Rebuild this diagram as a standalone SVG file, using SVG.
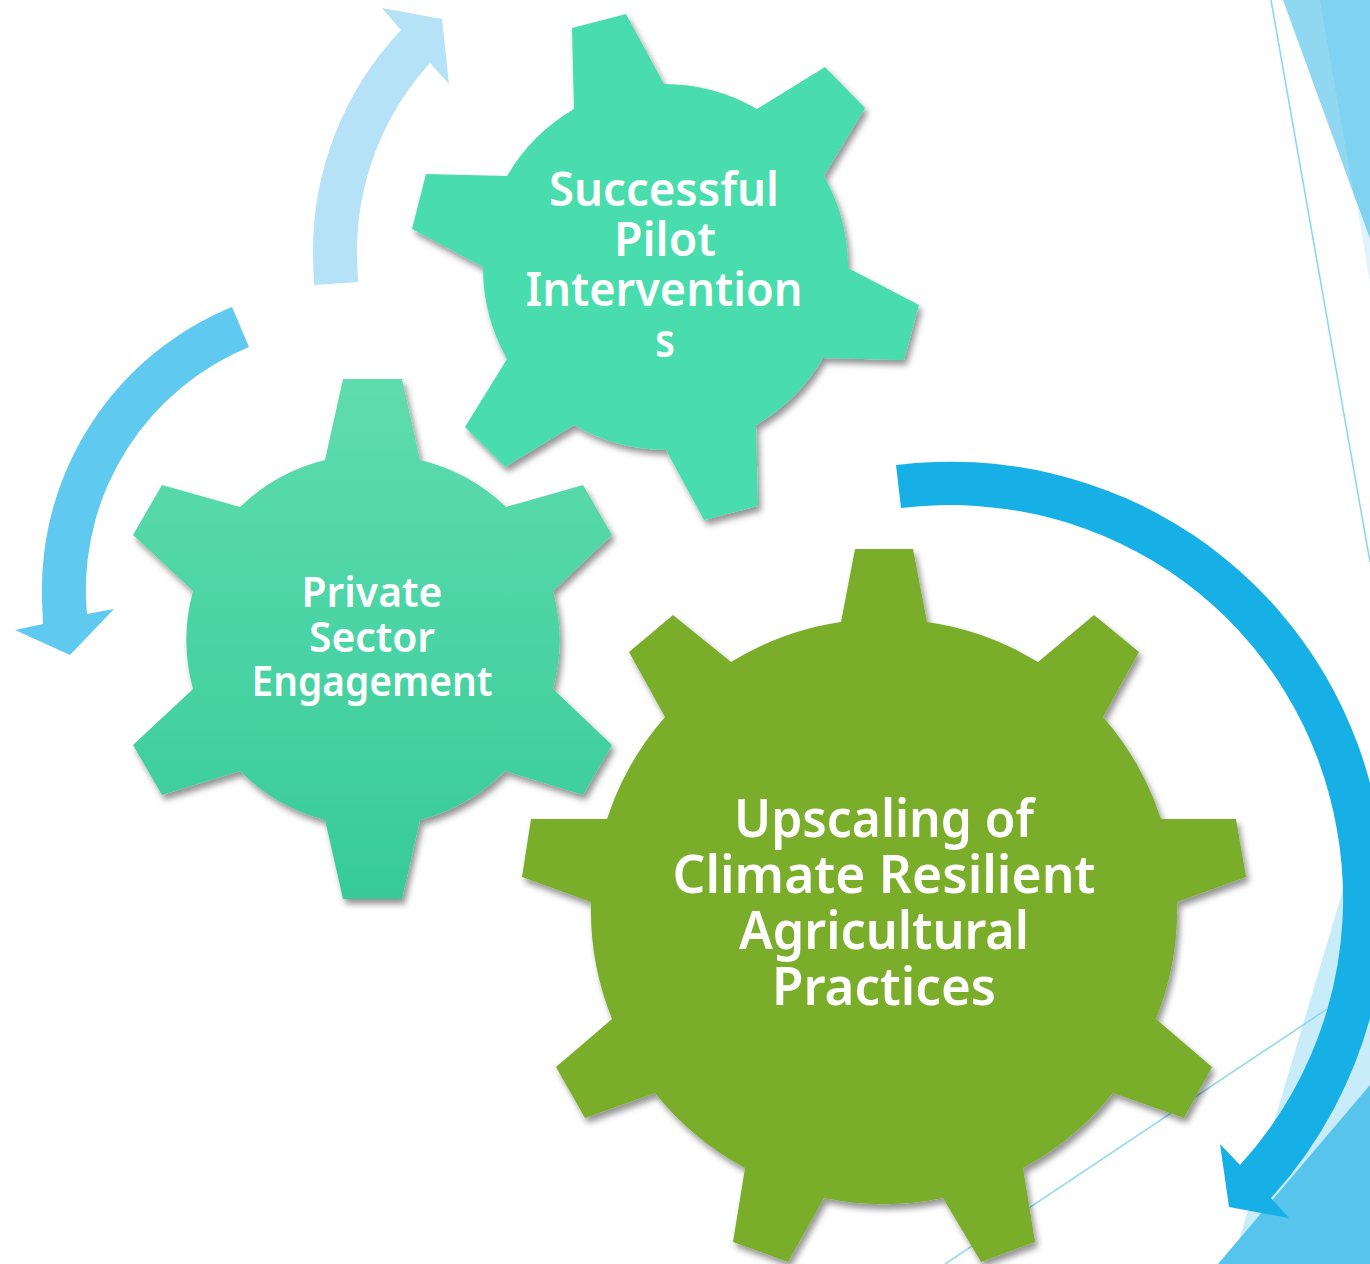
<svg xmlns="http://www.w3.org/2000/svg" width="1370" height="1264" viewBox="0 0 1370 1264">
<defs>
<linearGradient id="g1" x1="0" y1="0" x2="0" y2="1"><stop offset="0" stop-color="#5fdcb0"/><stop offset="1" stop-color="#37cb99"/></linearGradient>
<filter id="sh" x="-10%" y="-10%" width="120%" height="120%"><feDropShadow dx="3" dy="5" stdDeviation="3" flood-color="#000" flood-opacity="0.42"/></filter>
</defs>
<style>
.t{font-family:"Noto Sans","Open Sans",sans-serif;font-weight:600;fill:#fff;text-anchor:middle}
.ln{fill:none;stroke:#86d7f0;stroke-width:1.5}
</style>
<rect width="1370" height="1264" fill="#fff"/>
<g id="background">
<polygon points="1283,0 1370,239 1370,0" fill="#90d7f2"/>
<polygon points="1320,0 1354,195 1370,239 1370,0" fill="#7fd2f0"/>
<polygon points="1356,200 1370,283 1370,239" fill="#dff3fb"/>
<line class="ln" x1="1271" y1="0" x2="1370" y2="562"/>
<polygon points="1342,893 1232,1264 1370,1264 1370,800" fill="#c8ecf9"/>
<polygon points="1218,1264 1370,1085 1370,1264" fill="#56c4ed"/>
<line class="ln" x1="1327" y1="1009" x2="945" y2="1264"/>
</g>
<g id="connectors">
<path id="arrow-large" d="M896,465A451,440 -45 0 1 1370,783A442,442 0 0 1 1271,1198L1289,1218L1229,1207L1220,1144L1240,1165A395,395 0 0 0 1337,830A405,397 -45 0 0 901,508Z" fill="#17b0e6"/>
<path id="arrow-mid" d="M232,307A306,306 0 0 0 42,600L43,624L15,630L70,655L114,609L87,614L86,600A263,263 0 0 1 249,347Z" fill="#5fc9ef"/>
<path id="arrow-light" d="M314,285L313,256A322,322 0 0 1 401,30L382,8L442,19L449,84L430,63A280,280 0 0 0 357,256L358,282Z" fill="#b5e2f6"/>
</g>
<g id="gear-private-sector">
<path filter="url(#sh)" fill="url(#g1)" d="M343,379L402,379L420,460A186,186 0 0 1 506,507L583,485L612,535L553,591A186,186 0 0 1 553,689L612,745L583,795L505,771A186,186 0 0 1 420,820L402,899L343,899L325,820A186,186 0 0 1 240,771L162,795L133,745L193,689A186,186 0 0 1 193,591L133,535L162,485L240,507A186,186 0 0 1 325,460Z"/>
<text class="t" font-size="41" x="372" y="607" textLength="141" lengthAdjust="spacingAndGlyphs">Private</text>
<text class="t" font-size="41" x="372" y="652" textLength="126" lengthAdjust="spacingAndGlyphs">Sector</text>
<text class="t" font-size="41" x="372" y="696" textLength="241" lengthAdjust="spacingAndGlyphs">Engagement</text>
</g>
<g id="gear-pilot">
<path filter="url(#sh)" fill="#4adcac" d="M572,28L626,14L664,84A186,186 0 0 1 757,109L825,67L865,108L824,176A186,186 0 0 1 848,268L919,305L904,360L823,358A186,186 0 0 1 756,425L758,506L704,520L666,450A186,186 0 0 1 574,425L505,467L465,427L507,359A186,186 0 0 1 483,267L412,229L426,174L507,176A186,186 0 0 1 574,109Z"/>
<text class="t" font-size="46" x="664" y="206" textLength="230" lengthAdjust="spacingAndGlyphs">Successful</text>
<text class="t" font-size="46" x="665" y="256" textLength="102" lengthAdjust="spacingAndGlyphs">Pilot</text>
<text class="t" font-size="46" x="664" y="306" textLength="277" lengthAdjust="spacingAndGlyphs">Intervention</text>
<text class="t" font-size="46" x="665" y="357" textLength="20" lengthAdjust="spacingAndGlyphs">s</text>
</g>
<g id="gear-upscaling">
<path filter="url(#sh)" fill="#7aad2c" d="M855,549L913,549L927,622A292,292 0 0 1 1038,662L1094,615L1139,652L1103,717A292,292 0 0 1 1161,819L1236,819L1246,877L1177,902A292,292 0 0 1 1156,1019L1212,1067L1184,1118L1113,1093A292,292 0 0 1 1023,1168L1035,1242L981,1262L943,1198A292,292 0 0 1 824,1198L788,1262L733,1242L745,1168A292,292 0 0 1 655,1093L585,1118L556,1067L612,1019A292,292 0 0 1 591,902L522,877L531,819L607,819A292,292 0 0 1 665,717L629,652L673,615L731,662A292,292 0 0 1 841,622Z"/>
<text class="t" font-size="52" x="884" y="837" textLength="300" lengthAdjust="spacingAndGlyphs">Upscaling of</text>
<text class="t" font-size="52" x="884" y="893" textLength="423" lengthAdjust="spacingAndGlyphs">Climate Resilient</text>
<text class="t" font-size="52" x="884" y="949" textLength="290" lengthAdjust="spacingAndGlyphs">Agricultural</text>
<text class="t" font-size="52" x="884" y="1005" textLength="224" lengthAdjust="spacingAndGlyphs">Practices</text>
</g>
</svg>
